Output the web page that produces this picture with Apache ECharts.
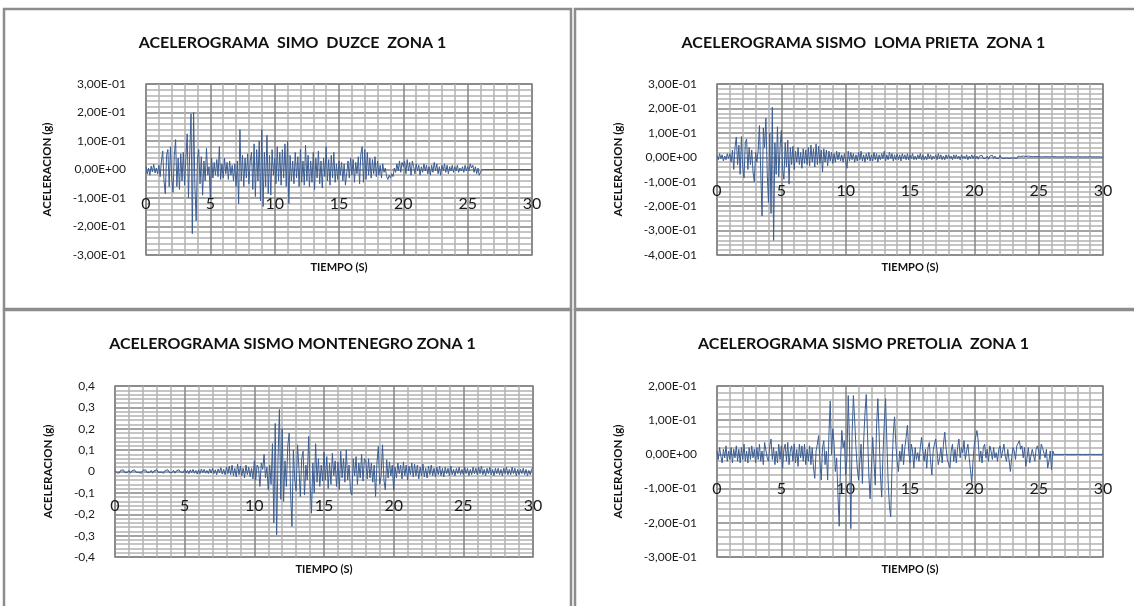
<!DOCTYPE html>
<html><head><meta charset="utf-8">
<script src="https://cdn.jsdelivr.net/npm/echarts@6/dist/echarts.min.js"></script>
<style>html,body{margin:0;padding:0;background:#fff}#c{width:1134px;height:606px}</style>
</head><body><div id="c"></div><script>
// sampling step of all records (s)
const DT = 0.1;
const TITLES = [
  'ACELEROGRAMA  SIMO  DUZCE  ZONA 1',
  'ACELEROGRAMA SISMO  LOMA PRIETA  ZONA 1',
  'ACELEROGRAMA SISMO MONTENEGRO ZONA 1',
  'ACELEROGRAMA SISMO PRETOLIA  ZONA 1'
];
const X_NAME = 'TIEMPO (S)';
const Y_NAME = 'ACELERACION (g)';
// acceleration values in milli-g, one row per second (t = 0.0 ... 0.9, 1.0 ...)
const DUZCE = [
10,-15,5,-20,12,-8,18,-12,5,-15,
15,-25,30,65,-40,-85,50,70,-60,80,
-30,-80,50,105,-60,40,-70,55,-40,60,
-55,40,125,-100,60,195,-225,200,-60,-180,
40,70,-50,45,-90,30,-40,75,-20,10,
-100,40,-30,25,-20,35,-25,80,-35,20,
-30,40,-15,25,-35,30,-20,15,-40,20,
-60,30,-120,140,-40,50,-60,40,-30,55,
-50,30,60,-70,90,-95,70,-40,100,-110,
140,-130,60,-60,120,-85,50,-90,70,-20,
40,-50,80,-40,60,-55,70,-30,90,-60,
100,-120,50,-40,30,-50,60,-30,45,-60,
70,-45,30,-55,85,-40,50,-60,30,-45,
60,-70,40,-30,65,-50,30,-65,40,-25,
80,-40,35,-55,50,-30,60,-45,20,-35,
30,-20,25,-40,20,-55,-60,30,-30,40,
-20,35,-45,25,-15,45,-50,55,80,-45,
70,-35,60,-20,40,-30,35,-15,45,-25,
30,-20,15,-30,20,-10,5,-25,-35,-20,
-30,-15,-25,5,-10,20,-5,30,-10,25,
10,30,-15,35,-5,25,-20,30,10,-15,
20,-5,15,-20,10,-10,20,-5,15,-15,
10,-20,15,-10,25,-5,20,-15,10,-20,
15,-5,20,-10,15,-15,10,-5,15,-10,
10,-5,15,-10,5,-5,10,-10,15,-5,
10,-5,20,5,15,-10,10,-15,5,-20,
-10,0,0,0,0,0,0,0,0,0,
0,0,0,0,0,0,0,0,0,0,
0,0,0,0,0,0,0,0,0,0,
0,0,0,0,0,0,0,0,0,0,
0
];
const LOMA_PRIETA = [
5,-10,15,-5,10,-15,5,-10,15,-5,
15,-20,30,-50,40,83,-30,50,-70,85,
-40,-85,60,75,-50,40,-30,30,-60,-100,
20,-20,30,130,-60,-240,120,40,160,-60,
-185,100,-230,205,-340,60,-70,125,-80,40,
110,-50,-90,60,-40,70,-110,40,-30,45,
-50,25,-20,40,-30,20,-45,35,-25,30,
-30,40,-35,50,-20,35,-40,55,-30,45,
-25,30,-60,35,-20,30,-35,25,-15,20,
-25,15,-20,25,-10,20,-15,10,-20,15,
20,-45,25,-15,20,-10,15,-20,10,-15,
20,-10,25,-15,10,-20,15,-10,20,-15,
10,-15,20,-10,15,-20,10,-10,15,-5,
25,-15,10,-10,20,-5,15,-15,10,-10,
15,-10,10,-15,15,-5,10,-10,15,-10,
10,-5,15,-10,5,-10,10,-5,15,-10,
10,-10,5,-10,15,-5,10,-10,5,-5,
10,-10,15,-5,10,-10,5,-10,10,-5,
10,-5,5,-10,10,-5,10,-5,5,-10,
10,-5,5,-5,10,-10,5,-5,10,-5,
8,-5,5,-8,5,-3,8,-5,3,-5,
5,-8,5,-3,8,-5,5,-5,3,-5,
8,-3,5,-5,3,-3,5,-5,3,-3,
5,-3,3,-5,5,-3,3,-3,5,-3,
3,-3,5,-3,3,-3,3,-5,3,-3,
3,-2,2,-3,2,-2,3,-2,2,-2,
2,-2,3,-2,2,-2,2,-3,2,-2,
2,-2,2,-2,3,-2,2,-2,2,-2,
2,-2,2,-2,2,-2,2,-2,2,-2,
2,-2,2,-2,2,-2,2,-2,2,-2,
0
];
const MONTENEGRO = [
5,-5,3,-8,5,-3,8,-5,3,-5,
5,-8,3,-5,8,-3,5,-5,3,-8,
5,-3,8,-5,3,-5,5,-8,3,-5,
8,-5,3,-3,5,-8,5,-3,8,-5,
3,-5,5,-8,3,-5,8,-3,5,-5,
10,-8,5,-10,8,-5,10,-8,5,-12,
8,-10,12,-5,10,-8,5,-10,12,-8,
15,-10,8,-15,12,-5,18,-12,10,-15,
20,-10,25,-15,30,-20,15,-25,35,-15,
25,-20,15,-30,30,-15,20,-25,15,-35,
50,-40,30,20,-70,40,10,80,-30,20,
-85,30,-60,130,-240,225,-296,60,290,-130,
200,-140,50,-70,120,180,-100,-257,100,-40,
-90,125,20,-117,60,95,-110,30,-40,164,
-60,-195,40,-100,130,-50,60,-70,30,-45,
90,-40,70,-80,40,-60,85,-20,50,-70,
45,-85,95,-30,60,-50,100,-40,30,-90,
-110,60,-20,70,-60,40,-30,80,-45,60,
50,-35,60,-30,40,-50,30,-117,40,117,
-60,-20,125,-40,-86,55,-30,45,-20,30,
-86,20,-30,40,-10,30,-35,45,-20,30,
-40,25,-15,40,-25,35,-20,30,-35,20,
-20,35,-25,15,-30,25,-15,30,-20,15,
-25,20,-15,25,-20,15,-25,20,-10,15,
-20,25,-15,10,-20,15,-10,20,-15,10,
-15,20,-10,15,-20,10,-15,20,-10,15,
-15,20,-10,25,-15,10,-20,15,-10,20,
-15,10,-20,15,-10,15,-15,10,-20,15,
-10,20,-15,10,-15,20,-10,15,-20,10,
-15,10,-10,15,-15,10,-20,5,-15,10,
20
];
const PRETOLIA = [
10,-15,20,-5,-25,15,-10,25,-20,10,
-15,20,-25,15,-10,25,-20,15,-25,20,
-15,30,-20,10,-25,20,-15,25,-10,15,
-25,20,-15,30,-20,10,-30,35,40,-10,
-20,25,45,-15,20,-30,10,-25,30,-15,
25,-40,15,30,-20,35,-30,10,25,-20,
30,-25,15,-35,30,-10,25,-20,30,-30,
15,-20,25,-30,20,-40,-70,10,30,55,
-20,-75,20,40,-30,10,-75,60,156,0,
75,30,-50,-10,-120,-210,-20,70,20,40,
-60,-10,172,30,-217,60,172,100,20,-40,
-75,-20,30,-85,40,120,175,60,-60,-130,
-40,50,-20,-90,80,163,60,-60,-125,0,
90,163,40,-80,-150,-183,-40,60,110,30,
-20,-50,10,-20,30,-30,20,50,85,10,
-25,30,10,-40,20,-15,5,-20,20,50,
10,-20,15,-40,20,35,-20,-60,10,30,
45,10,-30,-10,20,-25,30,65,20,-15,
-10,-40,10,30,-20,15,-25,20,45,-10,
20,5,40,-15,10,30,-10,-45,-85,-20,
30,50,70,40,-20,10,-25,20,30,-10,
15,-20,25,10,-15,20,-10,5,-20,15,
25,-10,10,30,-5,-20,15,20,-50,-10,
20,10,-15,25,30,40,15,25,-10,20,
-35,-10,20,-25,-5,15,10,-20,15,25,
10,-15,30,20,25,-10,15,-40,-20,10,
-45,10,0,0,0,0,0,0,0,0,
0,0,0,0,0,0,0,0,0,0,
0,0,0,0,0,0,0,0,0,0,
0,0,0,0,0,0,0,0,0,0,
0
];
// axis ranges
const X_RANGE = [0, 30, 5];
const Y_RANGES = [[-0.3, 0.3], [-0.4, 0.3], [-0.4, 0.4], [-0.3, 0.2]];
const SERIES = [DUZCE, LOMA_PRIETA, MONTENEGRO, PRETOLIA];

function sci(v) {
  if (Math.abs(v) < 1e-9) return '0,00E+00';
  const s = v.toExponential(2);
  const parts = s.split('e');
  const e = parseInt(parts[1], 10);
  return parts[0].replace('.', ',') + 'E' + (e < 0 ? '-' : '+') + String(Math.abs(e)).padStart(2, '0');
}
function dec(v) {
  if (Math.abs(v) < 1e-9) return '0';
  return (Math.round(v * 10) / 10).toFixed(1).replace('.', ',');
}
function build(vals) {
  return vals.map((v, i) => [Math.round(i * DT * 100) / 100, v / 1000]);
}

const FONT = 'Lato, "Liberation Sans", Arial, sans-serif';
const MAJOR = '#848484', MINOR = '#b2b2b2', LINE = '#3c5d92';
const layout = [
  {grid: {left: 146, top: 84, width: 386, height: 171}, tx: 287.5, ty: 30, yGap: 93, fmt: sci},
  {grid: {left: 717, top: 84, width: 386, height: 171}, tx: 858.5, ty: 30, yGap: 93, fmt: sci},
  {grid: {left: 115, top: 386, width: 418, height: 171}, tx: 287.5, ty: 331, yGap: 61, fmt: dec},
  {grid: {left: 717, top: 386, width: 386, height: 171}, tx: 858.5, ty: 331, yGap: 93, fmt: sci}
];
// x labels sit ~26px below the zero line (Excel axis crossing at 0)
function zeroMargin(i) {
  const r = Y_RANGES[i], h = layout[i].grid.height;
  return 26 - h * (0 - r[0]) / (r[1] - r[0]);
}

const option = {
  animation: false,
  backgroundColor: '#fff',
  title: layout.map((p, i) => ({
    text: TITLES[i], left: p.tx, top: p.ty, textAlign: 'center',
    textStyle: {fontFamily: FONT, fontSize: 16, fontWeight: 'bold', color: '#111'}
  })),
  grid: layout.map(p => Object.assign({show: true, borderColor: MAJOR, borderWidth: 1.5, containLabel: false}, p.grid)),
  xAxis: layout.map((p, i) => ({
    type: 'value', gridIndex: i, min: X_RANGE[0], max: X_RANGE[1], interval: X_RANGE[2],
    axisLine: {show: false, onZero: false},
    axisTick: {show: false},
    axisLabel: {margin: zeroMargin(i), fontSize: 16, color: '#1a1a1a', fontFamily: FONT},
    splitLine: {show: true, lineStyle: {color: MAJOR, width: 1.5}},
    minorTick: {show: false, splitNumber: 5},
    minorSplitLine: {show: true, lineStyle: {color: MINOR, width: 1.5}},
    name: X_NAME, nameLocation: 'middle', nameGap: 7,
    nameTextStyle: {fontFamily: FONT, fontSize: 11, fontWeight: 'bold', color: '#111'}
  })),
  yAxis: layout.map((p, i) => ({
    type: 'value', gridIndex: i, min: Y_RANGES[i][0], max: Y_RANGES[i][1], interval: 0.1,
    axisLine: {show: false, onZero: false}, axisTick: {show: false},
    axisLabel: {margin: 20, fontSize: 12, color: '#1a1a1a', fontFamily: FONT, formatter: p.fmt},
    splitLine: {show: true, lineStyle: {color: MAJOR, width: 1.5}},
    minorTick: {show: false, splitNumber: 5},
    minorSplitLine: {show: true, lineStyle: {color: MINOR, width: 1.5}},
    name: Y_NAME, nameLocation: 'middle', nameGap: p.yGap,
    nameTextStyle: {fontFamily: FONT, fontSize: 11.5, fontWeight: 'bold', color: '#111'}
  })),
  series: SERIES.map((d, i) => ({
    type: 'line', xAxisIndex: i, yAxisIndex: i, data: build(d),
    showSymbol: false, symbol: 'none', lineStyle: {color: LINE, width: 1}, z: 5
  })),
  graphic: [
    {type: 'rect', shape: {x: 4, y: 9, width: 567, height: 300}, style: {fill: 'none', stroke: '#8c8c8c', lineWidth: 2.5}, z: 100},
    {type: 'rect', shape: {x: 575, y: 9, width: 620, height: 300}, style: {fill: 'none', stroke: '#8c8c8c', lineWidth: 2.5}, z: 100},
    {type: 'rect', shape: {x: 4, y: 310, width: 567, height: 400}, style: {fill: 'none', stroke: '#8c8c8c', lineWidth: 2.5}, z: 100},
    {type: 'rect', shape: {x: 575, y: 310, width: 620, height: 400}, style: {fill: 'none', stroke: '#8c8c8c', lineWidth: 2.5}, z: 100}
  ]
};
echarts.init(document.getElementById('c'), null, {renderer: 'canvas'}).setOption(option);
</script></body></html>
